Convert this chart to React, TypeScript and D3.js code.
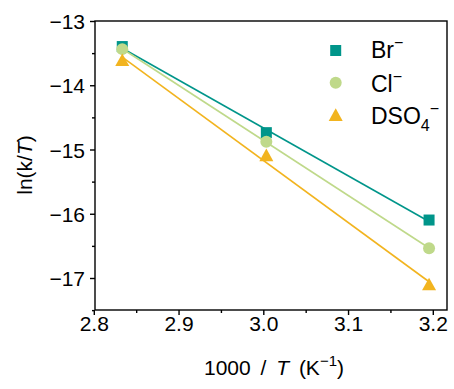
import React from "react";
import * as d3 from "d3";

const invT = [2.833, 3.003, 3.195];
const brValues = [-13.39, -14.73, -16.09];
const clValues = [-13.43, -14.87, -16.53];
const dsoValues = [-13.61, -15.09, -17.10];
const xTicks = [2.8, 2.9, 3.0, 3.1, 3.2];
const yTicks = [-13, -14, -15, -16, -17];

const series = [
  { name: "Br", sub: "", values: brValues, color: "#00958a", shape: "square" },
  { name: "Cl", sub: "", values: clValues, color: "#bfd98a", shape: "circle" },
  { name: "DSO", sub: "4", values: dsoValues, color: "#f2b41f", shape: "triangle" },
];

const W = 454, H = 389;
const L = 95, R = 447, T = 21, B = 310;
const FONT = "'Liberation Sans', Arial, sans-serif";

function fit(xs: number[], ys: number[]) {
  const mx = d3.mean(xs)!, my = d3.mean(ys)!;
  let num = 0, den = 0;
  xs.forEach((x, i) => { num += (x - mx) * (ys[i] - my); den += (x - mx) ** 2; });
  const b = num / den;
  return { a: my - b * mx, b };
}

function Marker({ shape, cx, cy, color }: { shape: string; cx: number; cy: number; color: string }) {
  if (shape === "square") return <rect x={cx - 5.5} y={cy - 5.5} width={11} height={11} fill={color} />;
  if (shape === "circle") return <circle cx={cx} cy={cy} r={6} fill={color} />;
  const s = 14, h = 12;
  return <path d={`M${cx},${cy - h * 0.6}L${cx + s / 2},${cy + h * 0.45}L${cx - s / 2},${cy + h * 0.45}Z`} fill={color} />;
}

export default function App() {
  const x = d3.scaleLinear().domain([2.8, 3.2]).range([94.3, 433.3]);
  const y = d3.scaleLinear().domain([-13, -17]).range([21.5, 278.5]);
  const minorX = d3.range(2.85, 3.21, 0.1);
  const minorY = d3.range(-13.5, -17.6, -1);
  const fmtY = (v: number) => "\u2212" + Math.abs(v).toString();
  const legendY = [50.5, 82.8, 115.5];
  const legendBase = [57.7, 92.2, 124.3];

  return (
    <svg width={W} height={H} style={{ position: "absolute", left: 0, top: 0 }} fontFamily={FONT}>
      <rect width={W} height={H} fill="#fff" />
      {series.map((s) => {
        const f = fit(invT, s.values);
        const x0 = invT[0], x1 = invT[invT.length - 1];
        return (
          <line key={s.name + "l"} x1={x(x0)} y1={y(f.a + f.b * x0)} x2={x(x1)} y2={y(f.a + f.b * x1)}
            stroke={s.color} strokeWidth={1.6} />
        );
      })}
      {series.map((s) =>
        s.values.map((v, i) => <Marker key={s.name + i} shape={s.shape} cx={x(invT[i])} cy={y(v)} color={s.color} />)
      )}
      <rect x={L} y={T} width={R - L} height={B - T} fill="none" stroke="#000" strokeWidth={1.4} />
      {xTicks.map((t) => (
        <g key={"xt" + t}>
          <line x1={x(t)} x2={x(t)} y1={B} y2={B + 5} stroke="#000" strokeWidth={1.4} />
          <text x={x(t)} y={331} textAnchor="middle" fontSize={21}>{t.toFixed(1)}</text>
        </g>
      ))}
      {minorX.map((t) => (
        <line key={"xm" + t} x1={x(t)} x2={x(t)} y1={B} y2={B + 3} stroke="#000" strokeWidth={1.4} />
      ))}
      {yTicks.map((t) => (
        <g key={"yt" + t}>
          <line x1={L - 5} x2={L} y1={y(t)} y2={y(t)} stroke="#000" strokeWidth={1.4} />
          <text x={85} y={y(t) + 7.5} textAnchor="end" fontSize={21}>{fmtY(t)}</text>
        </g>
      ))}
      {minorY.map((t) => (
        <line key={"ym" + t} x1={L - 3} x2={L} y1={y(t)} y2={y(t)} stroke="#000" strokeWidth={1.4} />
      ))}
      <text x={274} y={375} textAnchor="middle" fontSize={21} wordSpacing={4}>
        1000 / <tspan fontStyle="italic">T</tspan> (K<tspan dy={-9} fontSize={15}>{"\u2212"}1</tspan><tspan dy={9}>)</tspan>
      </text>
      <text transform={`translate(32,165) rotate(-90)`} textAnchor="middle" fontSize={21}>
        ln(k/<tspan fontStyle="italic">T</tspan>)
      </text>
      {series.map((s, i) => (
        <g key={"lg" + s.name}>
          <Marker shape={s.shape} cx={335.7} cy={legendY[i]} color={s.color} />
          <text x={371} y={legendBase[i]} fontSize={23}>
            {s.name}
            {s.sub ? <tspan dy={7} fontSize={16}>{s.sub}</tspan> : null}
            <tspan dy={s.sub ? -17 : -10} fontSize={16}>{"\u2212"}</tspan>
          </text>
        </g>
      ))}
    </svg>
  );
}
